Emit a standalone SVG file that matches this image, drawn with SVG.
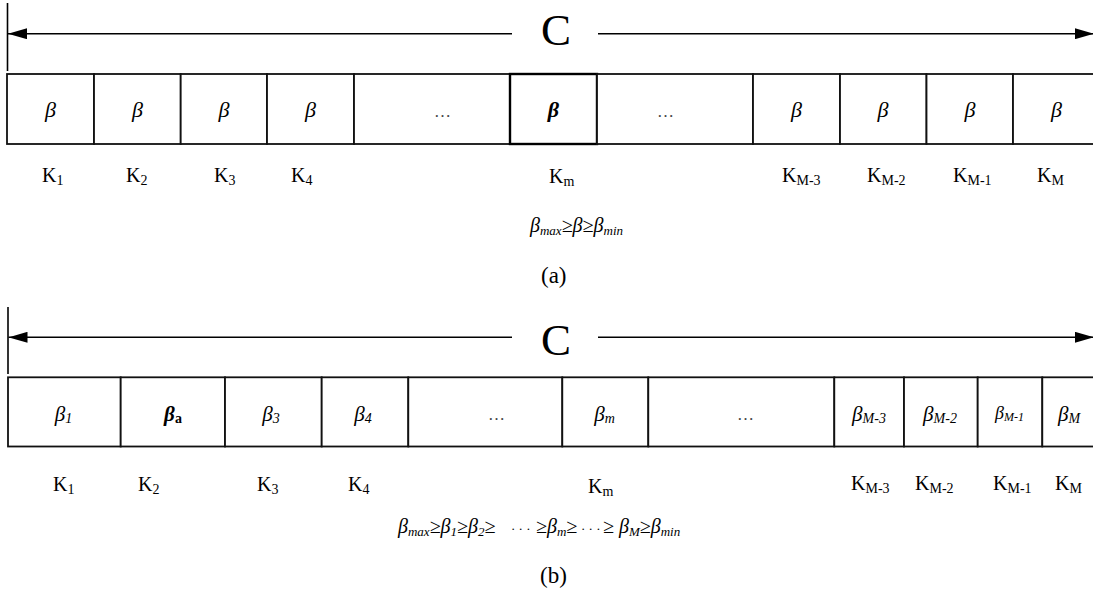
<svg xmlns="http://www.w3.org/2000/svg" width="1093" height="594" viewBox="0 0 1093 594">
<style>
text{font-family:"Liberation Serif","Times New Roman",serif;fill:#000}
.cell{fill:#fff;stroke:#111;stroke-width:1.8}
.cellb{fill:#fff;stroke:#000;stroke-width:2.4}
.b{font-style:italic;font-size:22px}
.b2{font-style:italic;font-size:21px}
.k{font-size:20px}
.ks{font-size:14px}
.bs{font-size:14px;font-style:italic}
.dots{font-size:17px;fill:#444}
.c{font-size:45px}
.lbl{font-size:23px}
.ineq{font-style:italic;font-size:20px}
.is{font-size:13px}
.arr{stroke:#000;stroke-width:1.6;fill:none}
.bar{stroke:#000;stroke-width:1.6}
</style>
<defs>
<marker id="ah" markerWidth="19" markerHeight="11" refX="19" refY="5.5" orient="auto" markerUnits="userSpaceOnUse"><path d="M0,0 L19,5.5 L0,11 z" fill="#000"/></marker>
</defs>

<g id="connectors">
<line class="bar" x1="7.5" y1="3" x2="7.5" y2="71"/>
<line class="arr" x1="512" y1="33.7" x2="8" y2="33.7" marker-end="url(#ah)"/>
<line class="arr" x1="598" y1="33.7" x2="1094" y2="33.7" marker-end="url(#ah)"/>
<line class="bar" x1="8" y1="307" x2="8" y2="374"/>
<line class="arr" x1="512" y1="337.3" x2="8.5" y2="337.3" marker-end="url(#ah)"/>
<line class="arr" x1="598" y1="337.3" x2="1094" y2="337.3" marker-end="url(#ah)"/>
</g>

<g id="labelC-a"><text class="c" x="541" y="45">C</text></g>
<g id="labelC-b"><text class="c" x="541" y="355">C</text></g>

<!-- Part (a) -->
<g id="a-k1"><rect class="cell" x="7" y="74" width="87" height="70"/><text class="b" x="50.5" y="117" text-anchor="middle">β</text><text class="k" x="42" y="182">K<tspan class="ks" dy="3">1</tspan></text></g>
<g id="a-k2"><rect class="cell" x="94" y="74" width="86.7" height="70"/><text class="b" x="137.5" y="117" text-anchor="middle">β</text><text class="k" x="126" y="182">K<tspan class="ks" dy="3">2</tspan></text></g>
<g id="a-k3"><rect class="cell" x="180.7" y="74" width="86.3" height="70"/><text class="b" x="224" y="117" text-anchor="middle">β</text><text class="k" x="214" y="182">K<tspan class="ks" dy="3">3</tspan></text></g>
<g id="a-k4"><rect class="cell" x="267" y="74" width="87" height="70"/><text class="b" x="310.5" y="117" text-anchor="middle">β</text><text class="k" x="291" y="182">K<tspan class="ks" dy="3">4</tspan></text></g>
<g id="a-dots1"><rect class="cell" x="354" y="74" width="156" height="70"/><text class="dots" x="434" y="117">…</text></g>
<g id="a-km"><rect class="cellb" x="510" y="74" width="87" height="70"/><text class="b" x="553.5" y="117" text-anchor="middle" font-weight="bold">β</text><text class="k" x="549" y="183">K<tspan class="ks" dy="3">m</tspan></text></g>
<g id="a-dots2"><rect class="cell" x="597" y="74" width="156" height="70"/><text class="dots" x="657" y="117">…</text></g>
<g id="a-kM3"><rect class="cell" x="753" y="74" width="87" height="70"/><text class="b" x="796.5" y="117" text-anchor="middle">β</text><text class="k" x="782" y="182">K<tspan class="ks" dy="3">M-3</tspan></text></g>
<g id="a-kM2"><rect class="cell" x="840" y="74" width="86.5" height="70"/><text class="b" x="883" y="117" text-anchor="middle">β</text><text class="k" x="867" y="182">K<tspan class="ks" dy="3">M-2</tspan></text></g>
<g id="a-kM1"><rect class="cell" x="926.5" y="74" width="86.5" height="70"/><text class="b" x="970" y="117" text-anchor="middle">β</text><text class="k" x="953" y="182">K<tspan class="ks" dy="3">M-1</tspan></text></g>
<g id="a-kM"><rect class="cell" x="1013" y="74" width="87" height="70"/><text class="b" x="1056.5" y="117" text-anchor="middle">β</text><text class="k" x="1037" y="182">K<tspan class="ks" dy="3">M</tspan></text></g>

<g id="a-ineq"><text class="ineq" x="530" y="232">β<tspan class="is" dy="3">max</tspan><tspan dy="-3">≥β≥β</tspan><tspan class="is" dy="3">min</tspan></text></g>
<g id="a-caption"><text class="lbl" x="541" y="283">(a)</text></g>

<!-- Part (b) -->
<g id="b-k1"><rect class="cell" x="8" y="377.3" width="112.7" height="69.2"/><text class="b2" x="63.5" y="420.5" text-anchor="middle">β<tspan class="bs" dy="2">1</tspan></text><text class="k" x="53" y="491">K<tspan class="ks" dy="3">1</tspan></text></g>
<g id="b-k2"><rect class="cell" x="120.7" y="377.3" width="104.3" height="69.2"/><text class="b2" x="173" y="420.5" text-anchor="middle" font-weight="bold">β<tspan style="font-size:14px;font-style:normal" dy="2">a</tspan></text><text class="k" x="138" y="491">K<tspan class="ks" dy="3">2</tspan></text></g>
<g id="b-k3"><rect class="cell" x="225" y="377.3" width="96.7" height="69.2"/><text class="b2" x="271" y="420.5" text-anchor="middle">β<tspan class="bs" dy="2">3</tspan></text><text class="k" x="257" y="491">K<tspan class="ks" dy="3">3</tspan></text></g>
<g id="b-k4"><rect class="cell" x="321.7" y="377.3" width="86.6" height="69.2"/><text class="b2" x="363" y="420.5" text-anchor="middle">β<tspan class="bs" dy="2">4</tspan></text><text class="k" x="348" y="491">K<tspan class="ks" dy="3">4</tspan></text></g>
<g id="b-dots1"><rect class="cell" x="408.3" y="377.3" width="154" height="69.2"/><text class="dots" x="488" y="420">…</text></g>
<g id="b-km"><rect class="cell" x="562.3" y="377.3" width="86" height="69.2"/><text class="b2" x="604.5" y="420.5" text-anchor="middle">β<tspan class="bs" dy="2">m</tspan></text><text class="k" x="588" y="493">K<tspan class="ks" dy="3">m</tspan></text></g>
<g id="b-dots2"><rect class="cell" x="648.3" y="377.3" width="186" height="69.2"/><text class="dots" x="737" y="420">…</text></g>
<g id="b-kM3"><rect class="cell" x="834.3" y="377.3" width="69.7" height="69.2"/><text class="b2" x="869" y="420.5" text-anchor="middle">β<tspan class="bs" dy="2">M-3</tspan></text><text class="k" x="851" y="490">K<tspan class="ks" dy="3">M-3</tspan></text></g>
<g id="b-kM2"><rect class="cell" x="904" y="377.3" width="73.7" height="69.2"/><text class="b2" x="940" y="420.5" text-anchor="middle">β<tspan class="bs" dy="2">M-2</tspan></text><text class="k" x="915" y="490">K<tspan class="ks" dy="3">M-2</tspan></text></g>
<g id="b-kM1"><rect class="cell" x="977.7" y="377.3" width="64.6" height="69.2"/><text class="b2" x="1009.5" y="419" text-anchor="middle" style="font-size:18px">β<tspan class="bs" dy="2" style="font-size:12px">M-1</tspan></text><text class="k" x="993" y="490">K<tspan class="ks" dy="3">M-1</tspan></text></g>
<g id="b-kM"><rect class="cell" x="1042.3" y="377.3" width="60" height="69.2"/><text class="b2" x="1069" y="420.5" text-anchor="middle">β<tspan class="bs" dy="2">M</tspan></text><text class="k" x="1055" y="490">K<tspan class="ks" dy="3">M</tspan></text></g>

<g id="b-ineq"><text class="ineq" y="533"><tspan x="398">β</tspan><tspan class="is" dy="3">max</tspan><tspan dy="-3">≥β</tspan><tspan class="is" dy="3">1</tspan><tspan dy="-3">≥β</tspan><tspan class="is" dy="3">2</tspan><tspan dy="-3">≥</tspan><tspan x="511" style="font-style:normal;font-size:13px">· · ·</tspan><tspan x="536">≥β</tspan><tspan class="is" dy="3">m</tspan><tspan dy="-3">≥</tspan><tspan x="581" style="font-style:normal;font-size:13px">· · ·</tspan><tspan x="603">≥ β</tspan><tspan class="is" dy="3">M</tspan><tspan dy="-3">≥β</tspan><tspan class="is" dy="3">min</tspan></text></g>
<g id="b-caption"><text class="lbl" x="540" y="583">(b)</text></g>
</svg>
